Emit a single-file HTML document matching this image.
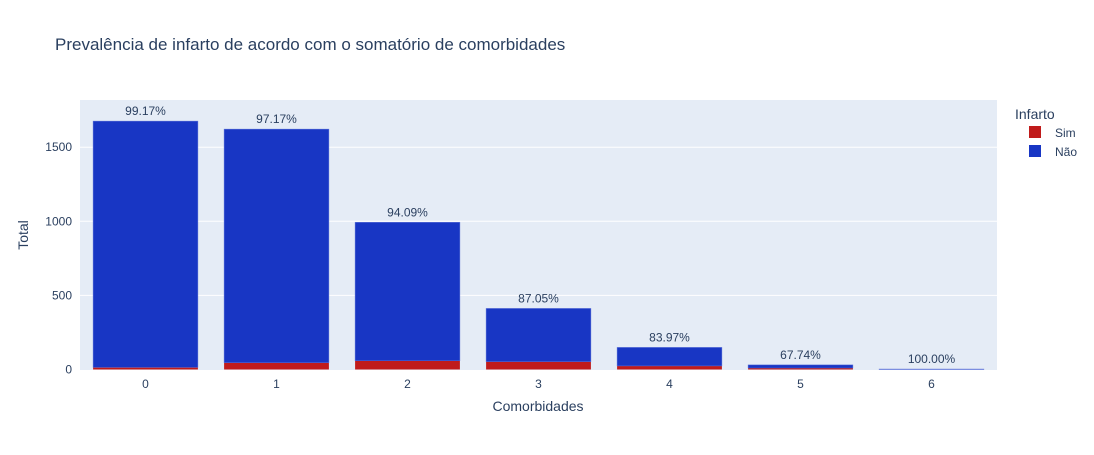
<!DOCTYPE html>
<html><head><meta charset="utf-8"><style>
body{margin:0;background:#fff;font-family:"Liberation Sans",sans-serif;}
svg text{font-family:"Liberation Sans",sans-serif;}
</style></head><body>
<svg id="chart" width="1094" height="450">
<rect width="1094" height="450" fill="#fff"/>
<text x="55" y="50" font-size="17" fill="#2a3f5f">Prevalência de infarto de acordo com o somatório de comorbidades</text>
<rect x="80" y="100" width="917" height="270" fill="#e5ecf6"/>
<g id="grid"></g><g id="bars"></g><g id="labels"></g>
<text x="538" y="411" font-size="14" fill="#2a3f5f" text-anchor="middle">Comorbidades</text>
<text transform="translate(28,235) rotate(-90)" font-size="14" fill="#2a3f5f" text-anchor="middle">Total</text>
<g>
<text x="1015" y="119" font-size="14" fill="#2a3f5f">Infarto</text>
<g><rect x="1029" y="126" width="12" height="12" fill="#c01b1b"/><text x="1055" y="137" font-size="12" fill="#2a3f5f">Sim</text></g>
<g><rect x="1029" y="145" width="12" height="12" fill="#1836c4"/><text x="1055" y="156" font-size="12" fill="#2a3f5f">Não</text></g>
</g>
</svg>
<script>
const categories=["0","1","2","3","4","5","6"];
const sim=[14,46,59,53,24,10,0];
const nao=[1662,1576,934,359,125,21,3];
const pctLabels=["99.17%","97.17%","94.09%","87.05%","83.97%","67.74%","100.00%"];
const yTicks=[0,500,1000,1500];
const ns="http://www.w3.org/2000/svg";
const x0=80,pw=917,step=pw/categories.length,bw=step*0.8;
const y=v=>369.5-v*0.1482;
const xc=i=>x0+step*(i+0.5);
function mk(t,a,p){const e=document.createElementNS(ns,t);for(const k in a)e.setAttribute(k,a[k]);p.appendChild(e);return e;}
const grid=document.getElementById('grid'),bars=document.getElementById('bars'),labels=document.getElementById('labels');
yTicks.forEach(v=>{
 if(v>0){const l=mk('line',{x1:80,x2:997,y1:y(v),y2:y(v),stroke:'#fff','stroke-width':1},grid);
 
 }
 const t=mk('text',{x:72,y:y(v)+4,'font-size':12,fill:'#2a3f5f','text-anchor':'end'},grid);t.textContent=v;
 
 
});
categories.forEach((c,i)=>{
 const xl=xc(i)-bw/2;
 const r1=mk('rect',{x:xl,y:y(sim[i]),width:bw,height:y(0)-y(sim[i]),fill:'#c01b1b'},bars);
 
 
 const r2=mk('rect',{x:xl,y:y(sim[i]+nao[i]),width:bw,height:y(sim[i])-y(sim[i]+nao[i]),fill:'#1836c4',stroke:'#5a6fd8','stroke-width':0.5},bars);
 
 
 const t=mk('text',{x:xc(i),y:y(sim[i]+nao[i])-6,'font-size':12,fill:'#2a3f5f','text-anchor':'middle'},labels);t.textContent=pctLabels[i];
 
 
 const xt=mk('text',{x:xc(i),y:388,'font-size':12,fill:'#2a3f5f','text-anchor':'middle'},labels);xt.textContent=c;
 
 
});
</script>
</body></html>
